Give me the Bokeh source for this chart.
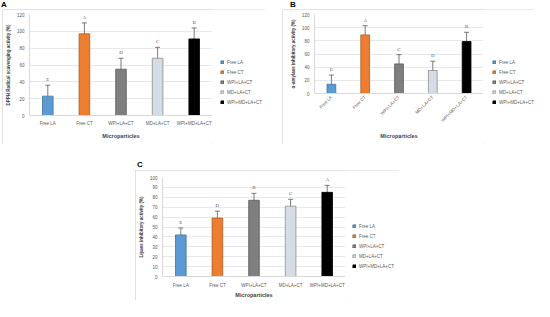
import math
from bokeh.plotting import figure
from bokeh.models import (ColumnDataSource, FactorRange, Range1d, Whisker, TeeHead,
                          Legend, LegendItem, Div, Spacer, LabelSet, SingleIntervalTicker)
from bokeh.layouts import column, row
from bokeh.embed import file_html
from bokeh.resources import INLINE

FONT = "Liberation Sans"

categories = ["Free LA", "Free CT", "WPI+LA+CT", "MD+LA+CT", "WPI+MD+LA+CT"]
fill_colors = ["#5B9BD5", "#ED7D31", "#7F7F7F", "#D6DCE5", "#000000"]
line_colors = ["#41719C", "#AE5A21", "#595959", "#8C8C8C", "#000000"]

dpph_values = [23, 97, 55, 68, 91]
dpph_errors = [13, 13, 13, 13, 13]
dpph_letters = ["E", "A", "D", "C", "B"]

amylase_values = [14, 89, 45, 35, 79]
amylase_errors = [14, 14, 14, 14, 14]
amylase_letters = ["E", "A", "C", "D", "B"]

lipase_values = [42, 59, 77, 71, 85]
lipase_errors = [7, 7, 7, 7, 7]
lipase_letters = ["E", "D", "B", "C", "A"]


def make_panel(values, errors, letters, y_end, y_step, y_label, width, height,
               borders, bar_width, legend_w, legend_xy, rotate=False,
               tick_standoff=5, label_standoff=4):
    left, top, bottom = borders
    src = ColumnDataSource(dict(
        x=categories, top=values,
        lower=[v - e for v, e in zip(values, errors)],
        upper=[v + e for v, e in zip(values, errors)],
        letter=letters, fill=fill_colors, line=line_colors))
    p = figure(x_range=FactorRange(factors=categories), y_range=Range1d(0, y_end),
               width=width - legend_w, height=height, output_backend="svg",
               toolbar_location=None, min_border_left=left, min_border_right=0,
               min_border_top=top, min_border_bottom=bottom,
               background_fill_color="white", border_fill_color="white",
               outline_line_color=None)
    p.vbar(x="x", top="top", width=bar_width, source=src,
           fill_color="fill", line_color="line", line_width=0.8)
    w = Whisker(base="x", upper="upper", lower="lower", source=src,
                line_color="#595959", line_width=0.8,
                upper_head=TeeHead(size=5, line_color="#595959", line_width=0.8),
                lower_head=TeeHead(size=5, line_color="#595959", line_width=0.8))
    p.add_layout(w)
    labels = LabelSet(x="x", y="upper", text="letter", source=src, y_offset=3,
                      text_align="center", text_baseline="bottom",
                      text_font=FONT, text_font_size="5px", text_color="#595959")
    p.add_layout(labels)

    p.yaxis.ticker = SingleIntervalTicker(interval=y_step)
    p.xgrid.grid_line_color = None
    p.ygrid.grid_line_color = "#d9d9d9"
    p.ygrid.grid_line_width = 0.6
    for ax in (p.xaxis[0], p.yaxis[0]):
        ax.major_tick_line_color = None
        ax.minor_tick_line_color = None
        ax.major_tick_out = 0
        ax.major_tick_in = 0
        ax.minor_tick_out = 0
        ax.axis_line_color = "#d9d9d9"
        ax.major_label_text_font = FONT
        ax.major_label_text_font_size = "4.5px"
        ax.major_label_text_color = "#595959"
        ax.axis_label_text_font = FONT
        ax.axis_label_text_font_style = "bold"
        ax.axis_label_text_color = "#404040"
    p.xaxis.axis_label = "Microparticles"
    p.xaxis.axis_label_text_font_size = "5.5px"
    p.xaxis.major_label_standoff = tick_standoff
    p.xaxis.axis_label_standoff = label_standoff
    p.yaxis.axis_label = y_label
    p.yaxis.axis_label_text_font_size = "4.5px"
    p.yaxis.major_label_standoff = 5
    p.yaxis.axis_label_standoff = 3
    if rotate:
        p.xaxis.major_label_orientation = math.pi / 4

    # legend panel: same bars, kept far out of view, only their legend is shown
    lg = figure(x_range=FactorRange(factors=categories), y_range=Range1d(1000, 1001),
                width=legend_w, height=height, output_backend="svg",
                toolbar_location=None, min_border=0,
                x_axis_location=None, y_axis_location=None,
                background_fill_color="white", border_fill_color="white",
                outline_line_color=None)
    lg.grid.visible = False
    r = lg.vbar(x="x", top="top", width=bar_width, source=src,
                fill_color="fill", line_color="line", line_width=0.8)
    items = [LegendItem(label=c, renderers=[r], index=i) for i, c in enumerate(categories)]
    legend = Legend(items=items, location=legend_xy, orientation="vertical",
                    label_text_font=FONT, label_text_font_size="4.5px",
                    label_text_color="#595959", glyph_width=4, glyph_height=4,
                    label_height=6, label_standoff=3, spacing=4, padding=2, margin=0,
                    border_line_color=None, background_fill_alpha=0)
    lg.add_layout(legend, "center")
    box = row(p, column(lg), styles={"outline": "1px solid #d9d9d9", "outline-offset": "-1px"})
    return box


pA = make_panel(dpph_values, dpph_errors, dpph_letters, 120, 20,
                "DPPH Radical scavenging activity (%)", 263, 135,
                (24, 5, 29), 0.29, 53, (8, 39), tick_standoff=5, label_standoff=4)
pB = make_panel(amylase_values, amylase_errors, amylase_letters, 120, 20,
                "α-amylase inhibitory activity (%)", 252, 135,
                (32, 5, 51), 0.26, 51, (9, 39), rotate=True,
                tick_standoff=3, label_standoff=5)
pC = make_panel(lipase_values, lipase_errors, lipase_letters, 100, 10,
                "Lipase inhibitory activity (%)", 264, 130,
                (26, 7, 22), 0.29, 54, (7, 31), tick_standoff=6, label_standoff=1)


def letter(t, w):
    return Div(text=f"<b>{t}</b>", width=w, height=9, margin=(0, 0, 0, 0),
               styles={"font-size": "8px", "font-family": FONT,
                       "line-height": "9px", "color": "#000000"})


layout = column(
    row(Spacer(width=1, height=9), letter("A", 289), letter("B", 40)),
    row(Spacer(width=2, height=135), pA, Spacer(width=17, height=135), pB),
    Spacer(width=10, height=16),
    row(Spacer(width=137, height=10), letter("C", 40)),
    row(Spacer(width=135, height=130), pC),
)

open("out.html", "w").write(file_html(layout, INLINE))
